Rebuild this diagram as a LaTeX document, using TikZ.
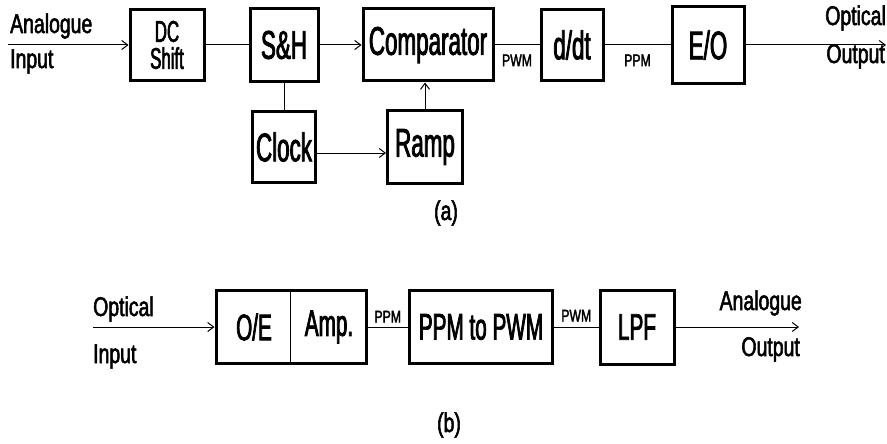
\documentclass[tikz,border=0pt]{standalone}
\usepackage{fontspec}
\newfontfamily\boxfont[FakeStretch=0.56,FakeBold=2]{Liberation Sans}
\newfontfamily\lblfont[FakeStretch=0.72,FakeBold=2]{Liberation Sans}
\usetikzlibrary{arrows.meta,positioning}
\tikzset{
  blk/.style={draw,line width=3pt,inner sep=0pt,align=center,
    font=\boxfont\fontsize{40}{40}\selectfont},
  blkb/.style={blk,font=\boxfont\fontsize{37}{38}\selectfont},
  txtb/.style={inner sep=0pt,font=\boxfont\fontsize{37}{38}\selectfont},
  lbl/.style={inner sep=0pt,font=\lblfont\fontsize{27}{27}\selectfont},
  sig/.style={inner sep=0pt,font=\lblfont\fontsize{17}{17}\selectfont},
  con/.style={line width=1pt},
  arr/.style={con,-{Straight Barb[length=6pt,width=9pt]}},
}
\begin{document}
\begin{tikzpicture}[x=1pt,y=-1pt]
  \useasboundingbox (0,0) rectangle (887,444);
  % (a) transmitter
  \node[blk,minimum width=74,minimum height=71,
    font=\boxfont\fontsize{30}{27}\selectfont] (dcshift) at (167,45) {DC\\Shift};
  \node[blk,minimum width=68,minimum height=73] (sh) at (284,45) {S\&H};
  \node[blk,minimum width=130,minimum height=72] (comp) at (428,45) {Comparator};
  \node[blk,minimum width=62,minimum height=71] (ddt) at (572,45) {d/dt};
  \node[blk,minimum width=72,minimum height=77] (eo) at (708,45) {E/O};
  \node[blk,minimum width=63,minimum height=71] (clock) at (284,147) {Clock};
  \node[blk,minimum width=75,minimum height=73] (ramp) at (425,147) {Ramp};
  \coordinate (ain) at (8,45);
  \coordinate (oout) at (886,45);
  \node[lbl,anchor=base west] (ainl1) at (10,33) {Analogue};
  \node[lbl,anchor=base west] (ainl2) at (10,68) {Input};
  \node[lbl,anchor=base east] (ooutl1) at (886,25) {Optical};
  \node[lbl,anchor=base east] (ooutl2) at (885,63) {Output};
  \draw[arr] (ain) -- (dcshift.west);
  \draw[con] (dcshift.east) -- (sh.west);
  \draw[arr] (sh.east) -- (comp.west);
  \draw[con] (comp.east) -- node[sig,anchor=north,yshift=-9pt] (pwma) {PWM} (ddt.west);
  \draw[con] (ddt.east) -- node[sig,anchor=north,yshift=-9pt] (ppma) {PPM} (eo.west);
  \draw[arr] (eo.east) -- (oout);
  \draw[con] (sh.south) -- (clock.north);
  \draw[arr] ([yshift=-6pt]clock.east) -- ([yshift=-6pt]ramp.west);
  \draw[arr] (ramp.north) -- (ramp.north |- comp.south);
  \node[lbl] (capa) at (446,213) {(a)};
  % (b) receiver
  \node[blkb,minimum width=150,minimum height=73] (oeamp) at (291,327) {};
  \node[txtb] (oe) at (254,327) {O/E};
  \node[txtb] (amp) at (329,327) {Amp.};
  \draw[con] (oeamp.north west) ++(76,0) -- ++(0,73);
  \node[blkb,minimum width=143,minimum height=73] (ppmpwm) at (481,327) {PPM to PWM};
  \node[blkb,minimum width=74,minimum height=74] (lpf) at (637,327) {LPF};
  \coordinate (oin) at (93,327);
  \coordinate (aout) at (799,327);
  \node[lbl,anchor=base west] (oinl1) at (93,316) {Optical};
  \node[lbl,anchor=base west] (oinl2) at (93,363) {Input};
  \node[lbl,anchor=base east] (aoutl1) at (802,310) {Analogue};
  \node[lbl,anchor=base east] (aoutl2) at (800,356) {Output};
  \draw[arr] (oin) -- (oeamp.west);
  \draw[con] (oeamp.east) -- node[sig,anchor=south,yshift=4pt] (ppmb) {PPM} (ppmpwm.west);
  \draw[con] (ppmpwm.east) -- node[sig,anchor=south,yshift=5pt] (pwmb) {PWM} (lpf.west);
  \draw[arr] (lpf.east) -- (aout);
  \node[lbl] (capb) at (449,425) {(b)};
\end{tikzpicture}
\end{document}
